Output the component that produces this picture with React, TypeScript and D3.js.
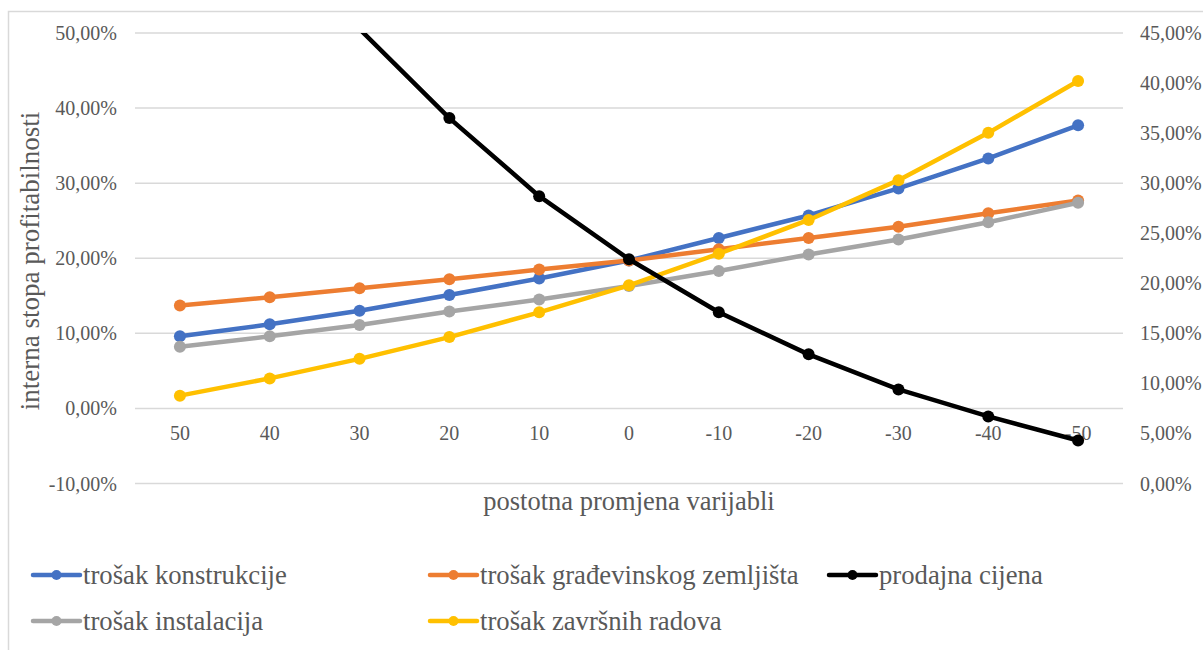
import React from "react";
import * as d3 from "d3";

const categories = ["50", "40", "30", "20", "10", "0", "-10", "-20", "-30", "-40", "-50"];

// values in % (primary / left axis)
const trosakKonstrukcije = [9.6, 11.2, 13.0, 15.1, 17.3, 19.7, 22.7, 25.7, 29.3, 33.3, 37.7];
const trosakZemljista = [13.7, 14.8, 16.0, 17.2, 18.5, 19.7, 21.2, 22.7, 24.2, 26.0, 27.7];
const trosakInstalacija = [8.2, 9.6, 11.1, 12.9, 14.5, 16.3, 18.3, 20.5, 22.5, 24.8, 27.4];
const trosakZavrsnih = [1.7, 4.0, 6.6, 9.5, 12.8, 16.4, 20.6, 25.1, 30.4, 36.7, 43.6];
// values in % (secondary / right axis)
const prodajnaCijena: (number | null)[] = [null, null, 45.4, 36.5, 28.7, 22.4, 17.1, 12.9, 9.4, 6.7, 4.3];

const leftTicks = [-10, 0, 10, 20, 30, 40, 50];
const rightTicks = [0, 5, 10, 15, 20, 25, 30, 35, 40, 45];

const xTitle = "postotna promjena varijabli";
const yTitle = "interna stopa profitabilnosti";

type Series = { name: string; color: string; values: (number | null)[]; axis: "left" | "right" };

const series: Series[] = [
  { name: "trošak konstrukcije", color: "#4472C4", values: trosakKonstrukcije, axis: "left" },
  { name: "trošak građevinskog zemljišta", color: "#ED7D31", values: trosakZemljista, axis: "left" },
  { name: "prodajna cijena", color: "#000000", values: prodajnaCijena, axis: "right" },
  { name: "trošak instalacija", color: "#A5A5A5", values: trosakInstalacija, axis: "left" },
  { name: "trošak završnih radova", color: "#FFC000", values: trosakZavrsnih, axis: "left" },
];

const W = 1203;
const H = 650;
const plot = { left: 135, right: 1123, top: 33, bottom: 483.5 };
const textColor = "#595959";
const font = "'Liberation Serif', 'Times New Roman', serif";

const fmt = (v: number) => v.toFixed(2).replace(".", ",") + "%";

export default function App() {
  const x = d3.scaleBand<string>().domain(categories).range([plot.left, plot.right]).padding(0);
  const yL = d3.scaleLinear().domain([-10, 50]).range([plot.bottom, plot.top]);
  const yR = d3.scaleLinear().domain([0, 45]).range([plot.bottom, plot.top]);
  const cx = (c: string) => (x(c) as number) + x.bandwidth() / 2;

  // draw order: primary axis series first, secondary on top
  const drawOrder = [...series.filter((s) => s.axis === "left"), ...series.filter((s) => s.axis === "right")];

  const legendCols = [33, 430, 829];
  const legendRows = [575, 621];

  return (
    <svg width={W} height={H} style={{ position: "absolute", left: 0, top: 0, background: "#fff" }} fontFamily={font}>
      <defs>
        <clipPath id="plotClip">
          <rect x={plot.left} y={plot.top} width={plot.right - plot.left} height={plot.bottom - plot.top} />
        </clipPath>
      </defs>
      <rect x={0} y={0} width={W} height={H} fill="#fff" />
      <rect x={8.5} y={11.5} width={W + 20} height={H + 20} fill="none" stroke="#D9D9D9" strokeWidth={1.5} />

      {/* gridlines */}
      {leftTicks.map((t) => (
        <line key={"g" + t} x1={plot.left} x2={plot.right} y1={yL(t)} y2={yL(t)} stroke="#D9D9D9" strokeWidth={1.5} />
      ))}

      {/* left tick labels */}
      {leftTicks.map((t) => (
        <text key={"l" + t} x={117} y={yL(t) + 7} textAnchor="end" fontSize={20} fill={textColor}>
          {fmt(t)}
        </text>
      ))}
      {/* right tick labels */}
      {rightTicks.map((t) => (
        <text key={"r" + t} x={1140} y={yR(t) + 7} textAnchor="start" fontSize={20} fill={textColor}>
          {fmt(t)}
        </text>
      ))}

      {/* category labels, next to the 0 line */}
      {categories.map((c) => (
        <text key={"c" + c} x={cx(c)} y={yL(0) + 32} textAnchor="middle" fontSize={20} fill={textColor}>
          {c}
        </text>
      ))}

      {/* series */}
      {drawOrder.map((s) => {
        const y = s.axis === "left" ? yL : yR;
        const [lo, hi] = y.domain();
        const pts = categories.map((c, i) => ({ c, v: s.values[i] }));
        const line = d3
          .line<{ c: string; v: number | null }>()
          .defined((d) => d.v !== null)
          .x((d) => cx(d.c))
          .y((d) => y(d.v as number));
        return (
          <g key={s.name}>
            <path d={line(pts) || ""} fill="none" stroke={s.color} strokeWidth={4.5} strokeLinejoin="round" strokeLinecap="round" clipPath="url(#plotClip)" />
            {pts
              .filter((d) => d.v !== null && (d.v as number) >= lo && (d.v as number) <= hi)
              .map((d) => (
                <circle key={d.c} cx={cx(d.c)} cy={y(d.v as number)} r={6} fill={s.color} />
              ))}
          </g>
        );
      })}

      {/* axis titles */}
      <text x={629} y={510} textAnchor="middle" fontSize={26.5} fill={textColor}>
        {xTitle}
      </text>
      <text transform={`translate(39, 261) rotate(-90)`} textAnchor="middle" fontSize={27} fill={textColor}>
        {yTitle}
      </text>

      {/* legend */}
      {series.map((s, i) => {
        const col = i % 3;
        const row = Math.floor(i / 3);
        const lx = legendCols[col];
        const ly = legendRows[row];
        return (
          <g key={"leg" + s.name}>
            <line x1={lx} x2={lx + 47} y1={ly} y2={ly} stroke={s.color} strokeWidth={4.5} strokeLinecap="round" />
            <circle cx={lx + 23.5} cy={ly} r={5} fill={s.color} />
            <text x={lx + 50} y={ly + 8.5} fontSize={26.7} fill={textColor}>
              {s.name}
            </text>
          </g>
        );
      })}
    </svg>
  );
}
